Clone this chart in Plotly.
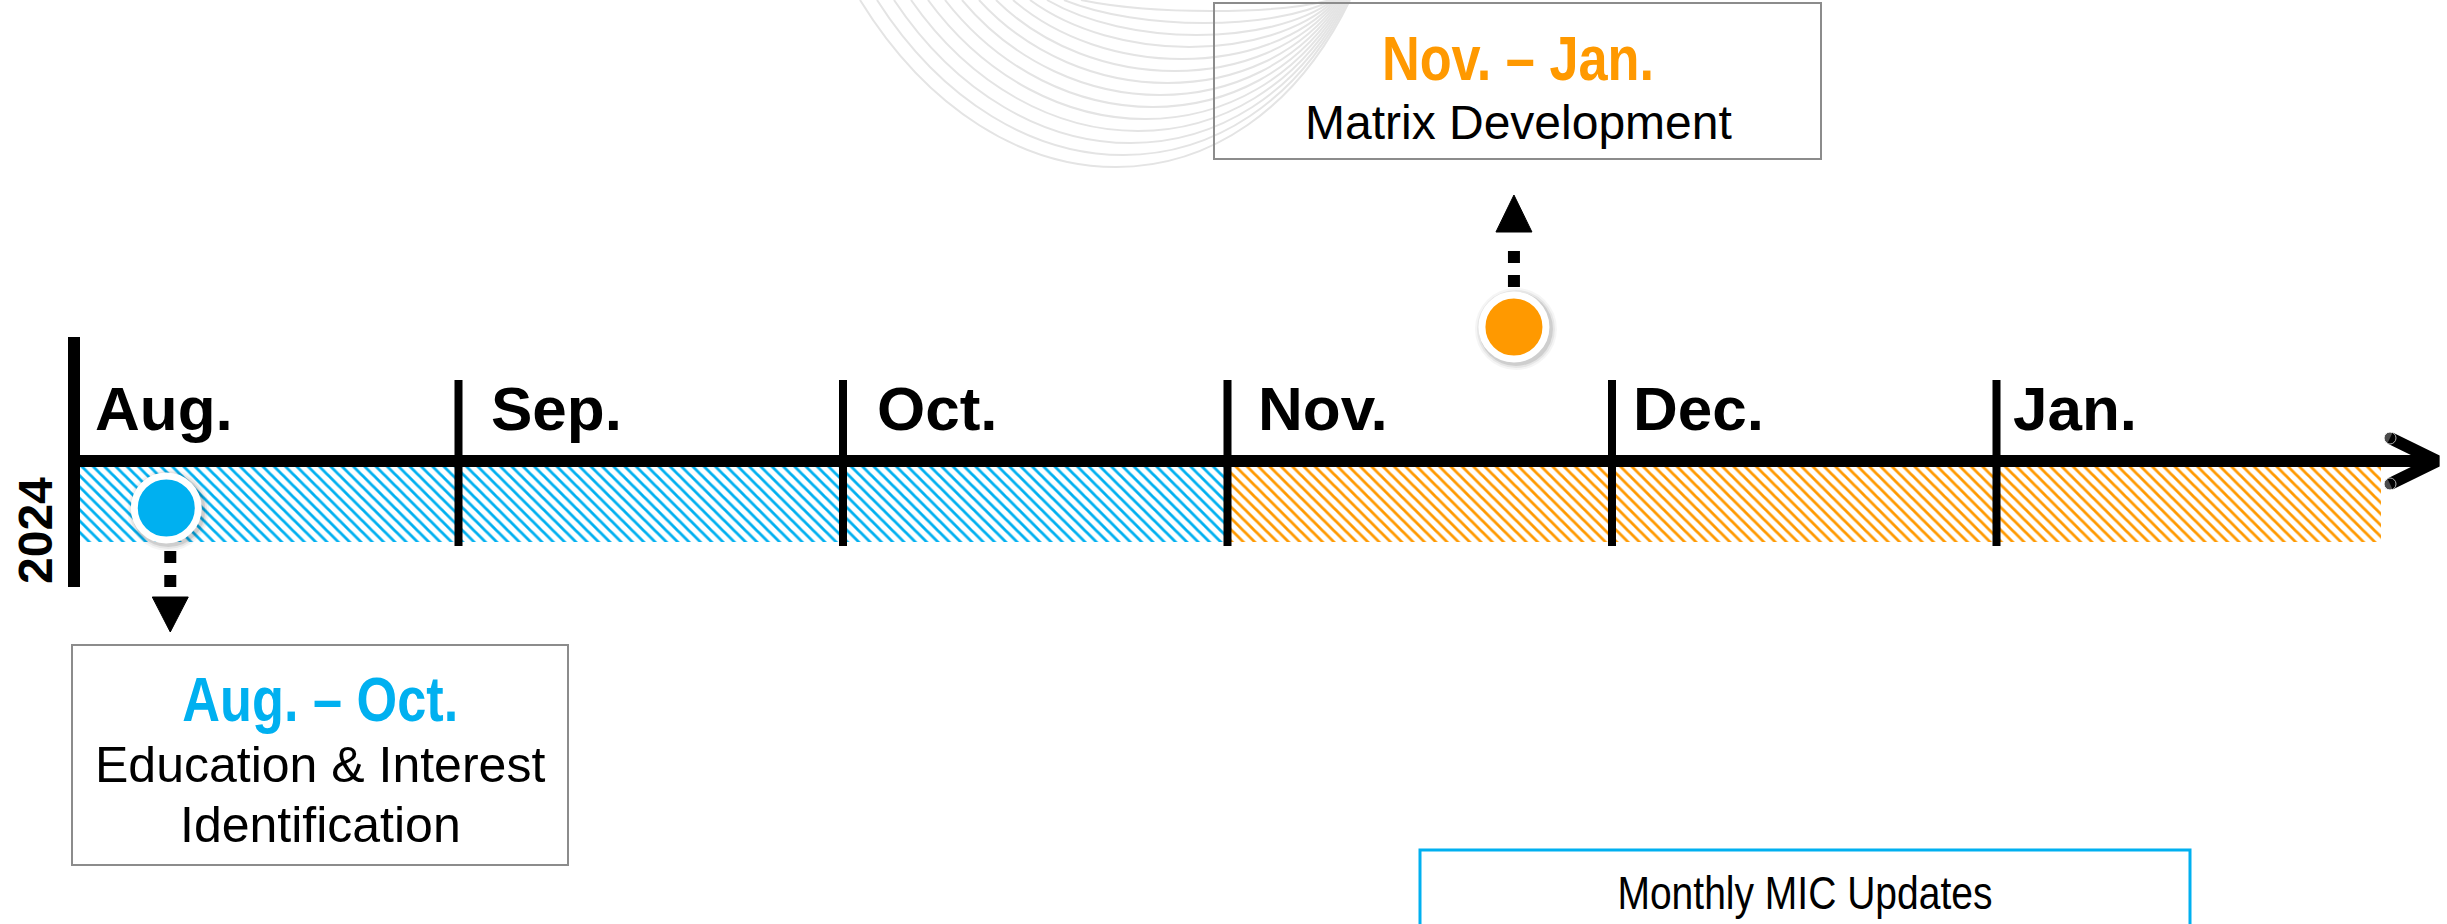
import plotly.graph_objects as go

# ---------------- data ----------------
months = ["Aug.", "Sep.", "Oct.", "Nov.", "Dec.", "Jan."]
year_label = "2024"
phase_ranges = ["Aug. – Oct.", "Nov. – Jan."]
phase_names = [["Education & Interest", "Identification"], ["Matrix Development"]]
phase_start = [0, 3]          # month index where phase starts
phase_end = [3, 6]            # month index where phase ends (exclusive)
phase_colors = ["#00B0F0", "#FF9900"]
milestone_month = [0.24, 3.745]   # position of phase marker along the timeline (months)
updates_label = "Monthly MIC Updates"

# ---------------- layout constants (pixels) ----------------
W, H = 2447, 924
X0 = 74.0          # pixel of timeline start (Aug.)
MPX = 384.5        # pixels per month


def mx(px):
    return (px - X0) / MPX


AXIS_Y = 461
BAND_Y, BAND_H = 504.5, 75
TICK_TOP, TICK_BOT = 380, 546
MAIN_TOP, MAIN_BOT = 337, 587
LABEL_OFFSETS = [19, 30, 32, 28, 19, 14]   # px from tick to month label
BOX_GRAY = "#8c8c8c"
FONT = "Liberation Sans, Arial, sans-serif"

fig = go.Figure()
shapes = []
annotations = []

# decorative background curves
for k in range(14):
    xl = 860 + 17 * k
    xr = 1350 - 1.5 * k
    yb = 167 - 12 * k
    span = xr - xl
    c = yb / 0.75
    path = "M {:.5f},{:.2f} C {:.5f},{:.2f} {:.5f},{:.2f} {:.5f},{:.2f}".format(
        mx(xl), 0, mx(xl + 0.28 * span), c, mx(xr - 0.22 * span), c, mx(xr), 0)
    shapes.append(dict(type="path", path=path, xref="x", yref="y",
                       line=dict(color="#e4e4e4", width=2), layer="below"))

# hatched band, one segment per month
for p in range(len(phase_start)):
    idx = list(range(phase_start[p], phase_end[p]))
    fig.add_trace(go.Bar(
        x=[1] * len(idx), base=idx, y=[BAND_Y] * len(idx), orientation="h",
        width=BAND_H,
        marker=dict(color="white", line=dict(width=0),
                    pattern=dict(shape="\\", fgcolor=phase_colors[p], bgcolor="white",
                                 size=8, solidity=0.35, fillmode="replace")),
        hoverinfo="skip", showlegend=False))

# horizontal axis with arrow
x_end = mx(2436)
fig.add_trace(go.Scatter(x=[0, x_end], y=[AXIS_Y, AXIS_Y], mode="lines",
                         line=dict(color="black", width=12), hoverinfo="skip", showlegend=False))
fig.add_trace(go.Scatter(x=[mx(2390), mx(2437), mx(2390)], y=[438, AXIS_Y, 484],
                         mode="lines+markers",
                         line=dict(color="black", width=12),
                         marker=dict(size=[12, 0, 12], color="black"),
                         hoverinfo="skip", showlegend=False))

# main vertical axis (start of timeline)
fig.add_trace(go.Scatter(x=[0, 0], y=[MAIN_TOP, MAIN_BOT], mode="lines",
                         line=dict(color="black", width=12), hoverinfo="skip", showlegend=False))

# month ticks
tx, ty = [], []
for i in range(1, len(months)):
    tx += [i, i, None]
    ty += [TICK_TOP, TICK_BOT, None]
fig.add_trace(go.Scatter(x=tx, y=ty, mode="lines", line=dict(color="black", width=8),
                         hoverinfo="skip", showlegend=False))

# month labels
for i, m in enumerate(months):
    annotations.append(dict(x=i + LABEL_OFFSETS[i] / MPX, y=408, xref="x", yref="y",
                            text="<b>%s</b>" % m,
                            showarrow=False, xanchor="left", yanchor="middle",
                            font=dict(family=FONT, size=62, color="black")))

# year label
annotations.append(dict(x=mx(35), y=531, xref="x", yref="y", text="<b>%s</b>" % year_label,
                        textangle=-90, showarrow=False, xanchor="center", yanchor="middle",
                        font=dict(family=FONT, size=48, color="black")))

# dotted arrows from milestones to boxes
arrow_specs = [  # (start y, end of dashes y, head base y, tip y)
    (551, 590, 597, 632),
    (287, 240, 232, 195),
]
for p in range(len(milestone_month)):
    xm = milestone_month[p] + (4 / MPX if p == 0 else 0)
    y0, y1, hb, tip = arrow_specs[p]
    fig.add_trace(go.Scatter(x=[xm, xm], y=[y0, y1], mode="lines",
                             line=dict(color="black", width=12, dash="dot"),
                             hoverinfo="skip", showlegend=False))
    hw = 18 / MPX
    fig.add_trace(go.Scatter(x=[xm - hw, xm + hw, xm, xm - hw], y=[hb, hb, tip, hb],
                             mode="lines", fill="toself", fillcolor="black",
                             line=dict(color="black", width=1),
                             hoverinfo="skip", showlegend=False))

# milestone circles (with soft shadow)
circle_y = [508, 327]
for p in range(len(milestone_month)):
    xs = milestone_month[p] + 2 / MPX
    for sz, a in [(82, 0.04), (78, 0.06), (74, 0.10)]:
        fig.add_trace(go.Scatter(x=[xs], y=[circle_y[p] + 2], mode="markers",
                                 marker=dict(size=sz, color="rgba(0,0,0,%s)" % a, line=dict(width=0)),
                                 hoverinfo="skip", showlegend=False))
    fig.add_trace(go.Scatter(x=[milestone_month[p]], y=[circle_y[p]], mode="markers",
                             marker=dict(size=64, color=phase_colors[p],
                                         line=dict(color="white", width=7)),
                             hoverinfo="skip", showlegend=False))

# phase boxes
boxes = [  # (x0, x1, y0, y1, center x, title mid y, first body mid y, body size)
    (72, 568, 645, 865, 320, 699, 765, 50),
    (1214, 1821, 3, 159, 1518, 58, 122, 48),
]
for p in range(len(phase_ranges)):
    x0, x1, y0, y1, cx, ty0, by0, bs = boxes[p]
    shapes.append(dict(type="rect", xref="x", yref="y", x0=mx(x0), x1=mx(x1), y0=y0, y1=y1,
                       line=dict(color=BOX_GRAY, width=2), fillcolor="rgba(0,0,0,0)", layer="above"))
    annotations.append(dict(x=mx(cx), y=ty0, xref="x", yref="y",
                            text="<b>%s</b>" % phase_ranges[p], showarrow=False,
                            xanchor="center", yanchor="middle",
                            font=dict(family=FONT, size=63, color=phase_colors[p])))
    for j, line in enumerate(phase_names[p]):
        annotations.append(dict(x=mx(cx), y=by0 + 60 * j, xref="x", yref="y",
                                text=line, showarrow=False, xanchor="center", yanchor="middle",
                                font=dict(family=FONT, size=bs, color="black")))

# monthly updates box
shapes.append(dict(type="rect", xref="x", yref="y", x0=mx(1420), x1=mx(2190), y0=850, y1=960,
                   line=dict(color="#00B0F0", width=3), fillcolor="rgba(0,0,0,0)", layer="above"))
annotations.append(dict(x=mx(1805), y=892, xref="x", yref="y", text=updates_label,
                        showarrow=False, xanchor="center", yanchor="middle",
                        font=dict(family=FONT, size=47, color="black")))

fig.update_layout(
    width=W, height=H,
    margin=dict(l=0, r=0, t=0, b=0),
    paper_bgcolor="white", plot_bgcolor="white",
    barmode="overlay",
    showlegend=False,
    xaxis=dict(range=[mx(0), mx(W)], visible=False, fixedrange=True),
    yaxis=dict(range=[H, 0], visible=False, fixedrange=True),
    shapes=shapes,
    annotations=annotations,
)

# condensed (narrow) rendering for the phase titles and the updates label
post = """
document.body.style.margin='0';document.body.style.overflow='hidden';
var gd = document.getElementById('{plot_id}');
gd.querySelectorAll('text.annotation-text').forEach(function(t){
  var s = t.getAttribute('data-unformatted') || '';
  if (s.indexOf('\\u2013') >= 0 || s.indexOf('Monthly') >= 0) {
    var b = t.getBBox(); var cx = b.x + b.width/2;
    var tr = t.getAttribute('transform') || '';
    t.setAttribute('transform', tr + ' translate(' + cx + ',0) scale(0.83,1) translate(' + (-cx) + ',0)');
  }
});
"""

fig.write_html("out.html", config=dict(displayModeBar=False), post_script=post)
